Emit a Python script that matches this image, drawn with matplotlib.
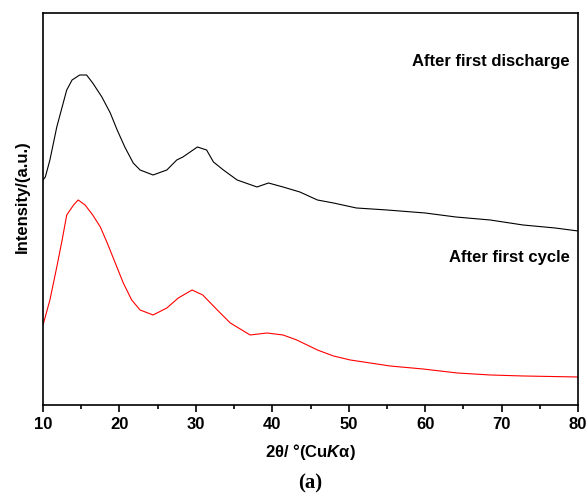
import matplotlib.pyplot as plt

plt.rcParams['font.family'] = ['Liberation Sans', 'DejaVu Sans']
plt.rcParams['mathtext.fontset'] = 'custom'
plt.rcParams['mathtext.rm'] = 'Liberation Sans:bold'
plt.rcParams['mathtext.it'] = 'Liberation Sans:bold:italic'
plt.rcParams['mathtext.bf'] = 'Liberation Sans:bold'

# XRD patterns (intensity in arbitrary units)
theta_discharge = [10.0, 10.3, 10.9, 11.8, 12.5, 13.1, 13.8, 14.8, 15.7, 16.5, 17.7,
                   18.8, 19.7, 20.7, 21.8, 22.7, 24.4, 26.2, 27.5, 28.3, 30.2, 31.4,
                   32.3, 33.6, 35.4, 38.0, 39.5, 41.4, 43.6, 45.9, 48.0, 51.0, 55.0,
                   60.0, 64.0, 68.5, 72.8, 77.0, 80.0]
int_discharge = [225, 228, 245, 278, 298, 315, 325, 330, 330, 322, 308, 292, 275,
                 258, 242, 235, 230, 235, 245, 248, 258, 255, 243, 235, 225, 218,
                 222, 218, 213, 205, 202, 197, 195, 192, 188, 185, 180, 177, 174]

theta_cycle = [10.0, 10.9, 11.8, 12.5, 13.1, 14.0, 14.6, 15.5, 16.5, 17.5, 18.4,
               19.4, 20.5, 21.6, 22.7, 24.4, 26.2, 27.7, 29.5, 30.9, 32.8, 34.5,
               37.1, 39.3, 41.4, 43.2, 45.9, 48.0, 50.2, 55.4, 59.7, 64.2, 68.5,
               72.8, 80.0]
int_cycle = [80, 105, 138, 165, 190, 200, 205, 200, 190, 178, 162, 143, 122, 105,
             95, 90, 97, 107, 115, 110, 95, 82, 70, 72, 70, 65, 55, 49, 45, 39,
             36, 32, 30, 29, 28]

fig = plt.figure(figsize=(5.87, 4.94), dpi=100)
ax = fig.add_axes([0.0733, 0.1802, 0.9114, 0.7935])

ax.plot(theta_discharge, int_discharge, color='black', linewidth=0.8)
ax.plot(theta_cycle, int_cycle, color='red', linewidth=0.8)

ax.set_xlim(10, 80)
ax.set_ylim(0, 392)
ax.set_xticks(range(10, 81, 10))
ax.set_xticks(range(15, 80, 10), minor=True)
ax.set_yticks([])
ax.tick_params(axis='x', which='major', direction='out', length=5, width=1.2,
               labelsize=12, pad=4)
ax.tick_params(axis='x', which='minor', direction='out', length=3, width=1.2)
for lbl in ax.get_xticklabels():
    lbl.set_fontweight('bold')
for sp in ax.spines.values():
    sp.set_linewidth(1.2)

ax.text(0.985, 0.875, 'After first discharge', transform=ax.transAxes,
        ha='right', va='center', fontsize=12, fontweight='bold')
ax.text(0.985, 0.375, 'After first cycle', transform=ax.transAxes,
        ha='right', va='center', fontsize=12, fontweight='bold')

fig.text(0.528, 1 - 452 / 494, r'2$\mathrm{\theta}$/ °(Cu$\mathit{K}\mathrm{\alpha}$)',
         ha='center', va='center', fontsize=12, fontweight='bold')
fig.text(0.528, 1 - 483 / 494, '(a)', ha='center', va='center', fontsize=15,
         fontweight='bold', family='Liberation Serif')
fig.text(22 / 587, 1 - 197 / 494, 'Intensity/(a.u.)', rotation=90, ha='center',
         va='center', fontsize=12, fontweight='bold')

fig.savefig('out.png', dpi=100)
